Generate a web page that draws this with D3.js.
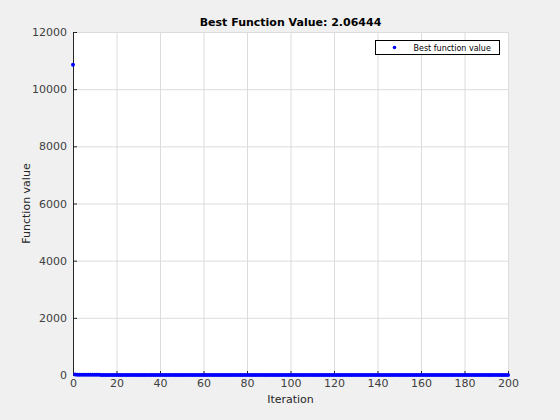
<!DOCTYPE html>
<html>
<head>
<meta charset="utf-8">
<script src="https://cdn.jsdelivr.net/npm/d3@7"></script>
<style>
  body { margin: 0; background: #f0f0f0; }
  text { font-family: "DejaVu Sans", sans-serif; }
</style>
</head>
<body>
<div id="chart"></div>
<script>
// best value found at each iteration (index = iteration)
var bestValues = [10850,
  14.8, 12.5, 10.7, 9.9, 8.3, 7.8, 7.12, 6.41, 5.85, 5.38,
  4.97, 4.61, 4.32, 4.11, 3.98, 3.82, 3.71, 3.61, 3.52, 3.44,
  3.37, 3.31, 3.25, 3.2, 3.15, 3.1, 3.06, 3.02, 2.98, 2.95,
  2.92, 2.89, 2.86, 2.83, 2.8, 2.78, 2.76, 2.73, 2.71, 2.69,
  2.67, 2.65, 2.63, 2.61, 2.6, 2.58, 2.57, 2.55, 2.54, 2.53,
  2.51, 2.5, 2.49, 2.48, 2.47, 2.46, 2.45, 2.44, 2.43, 2.42,
  2.41, 2.4, 2.39, 2.38, 2.37, 2.36, 2.35, 2.35, 2.34, 2.33,
  2.32, 2.31, 2.31, 2.3, 2.29, 2.28, 2.28, 2.27, 2.26, 2.26,
  2.25, 2.24, 2.24, 2.23, 2.23, 2.22, 2.21, 2.21, 2.2, 2.2,
  2.19, 2.19, 2.18, 2.18, 2.17, 2.17, 2.16, 2.16, 2.15, 2.15,
  2.14, 2.14, 2.14, 2.13, 2.13, 2.13, 2.12, 2.12, 2.12, 2.11,
  2.11, 2.11, 2.1, 2.1, 2.1, 2.1, 2.09, 2.09, 2.09, 2.09,
  2.09, 2.08, 2.08, 2.08, 2.08, 2.08, 2.08, 2.07, 2.07, 2.07,
  2.0712, 2.0708, 2.0703, 2.0699, 2.0695, 2.0691, 2.0688, 2.0684, 2.0681, 2.0678,
  2.0675, 2.0672, 2.0669, 2.0667, 2.0664, 2.0662, 2.0660, 2.0658, 2.0656, 2.0655,
  2.0653, 2.0652, 2.0651, 2.0650, 2.0649, 2.0648, 2.0647, 2.0647, 2.0646, 2.0646,
  2.06456, 2.06453, 2.06451, 2.06449, 2.06448, 2.06447, 2.06446, 2.06446, 2.06445, 2.06445,
  2.06444, 2.06444, 2.06444, 2.06444, 2.06444, 2.06444, 2.06444, 2.06444, 2.06444, 2.06444,
  2.06444, 2.06444, 2.06444, 2.06444, 2.06444, 2.06444, 2.06444, 2.06444, 2.06444, 2.06444,
  2.06444, 2.06444, 2.06444, 2.06444, 2.06444, 2.06444, 2.06444, 2.06444, 2.06444, 2.06444
];
var xTicks = [0, 20, 40, 60, 80, 100, 120, 140, 160, 180, 200];
var yTicks = [0, 2000, 4000, 6000, 8000, 10000, 12000];
var titleText = "Best Function Value: 2.06444";
var legendLabel = "Best function value";

var svgWidth = 560;
var svgHeight = 420;
var margin = { top: 32, right: 52, bottom: 45, left: 73 };
var width = svgWidth - margin.left - margin.right;
var height = svgHeight - margin.top - margin.bottom;

var svg = d3.select("#chart")
  .append("svg")
  .attr("width", svgWidth)
  .attr("height", svgHeight);

svg.append("rect")
  .attr("width", svgWidth)
  .attr("height", svgHeight)
  .attr("fill", "#f0f0f0");

var chartGroup = svg.append("g")
  .attr("transform", `translate(${margin.left}, ${margin.top})`);

chartGroup.append("rect")
  .attr("width", width)
  .attr("height", height)
  .attr("fill", "white");

var xScale = d3.scaleLinear().domain([0, 200]).range([0, width]);
var yScale = d3.scaleLinear().domain([0, 12000]).range([height, 0]);

// grid
chartGroup.selectAll(".xgrid")
  .data(xTicks)
  .enter()
  .append("line")
  .attr("x1", d => xScale(d) + 0.5)
  .attr("x2", d => xScale(d) + 0.5)
  .attr("y1", 0)
  .attr("y2", height)
  .attr("stroke", "#dcdcdc");

chartGroup.selectAll(".ygrid")
  .data(yTicks)
  .enter()
  .append("line")
  .attr("x1", 0)
  .attr("x2", width)
  .attr("y1", d => yScale(d) + 0.5)
  .attr("y2", d => yScale(d) + 0.5)
  .attr("stroke", "#dcdcdc");

// axes, ticks inside like matlab
var bottomAxis = d3.axisBottom(xScale).tickValues(xTicks).tickFormat(d3.format("d"))
  .tickSizeInner(-4).tickSizeOuter(0).tickPadding(4);
var leftAxis = d3.axisLeft(yScale).tickValues(yTicks).tickFormat(d3.format("d"))
  .tickSizeInner(-4).tickSizeOuter(0).tickPadding(6);

var xAxis = chartGroup.append("g")
  .attr("transform", `translate(0, ${height})`)
  .call(bottomAxis);

var yAxis = chartGroup.append("g")
  .call(leftAxis);

[xAxis, yAxis].forEach(function(ax) {
  ax.selectAll("path").attr("stroke", "#262626");
  ax.selectAll("line").attr("stroke", "#262626");
  ax.selectAll("text")
    .attr("fill", "#404040")
    .style("font-size", "11px")
    .style("font-family", "DejaVu Sans, sans-serif");
});

// points
chartGroup.selectAll("circle")
  .data(bestValues)
  .enter()
  .append("circle")
  .attr("cx", (d, i) => xScale(i))
  .attr("cy", d => yScale(d))
  .attr("r", 2)
  .attr("fill", "#0000ff");

// title and labels
svg.append("text")
  .attr("x", margin.left + width / 2)
  .attr("y", 26)
  .attr("text-anchor", "middle")
  .style("font-size", "11px")
  .style("font-weight", "bold")
  .attr("fill", "#000")
  .text(titleText);

svg.append("text")
  .attr("x", margin.left + width / 2)
  .attr("y", 403)
  .attr("text-anchor", "middle")
  .style("font-size", "11px")
  .attr("fill", "#262626")
  .text("Iteration");

svg.append("text")
  .attr("transform", `translate(30, ${margin.top + height / 2}) rotate(-90)`)
  .attr("text-anchor", "middle")
  .style("font-size", "11px")
  .attr("fill", "#262626")
  .text("Function value");

// legend
var legend = svg.append("g").attr("transform", "translate(375.5, 40.5)");
legend.append("rect")
  .attr("width", 124)
  .attr("height", 14)
  .attr("fill", "white")
  .attr("stroke", "#000");
legend.append("circle")
  .attr("cx", 19)
  .attr("cy", 7)
  .attr("r", 1.8)
  .attr("fill", "#0000ff");
legend.append("text")
  .attr("x", 38)
  .attr("y", 10)
  .style("font-size", "8px")
  .attr("fill", "#000")
  .text(legendLabel);
</script>
</body>
</html>
